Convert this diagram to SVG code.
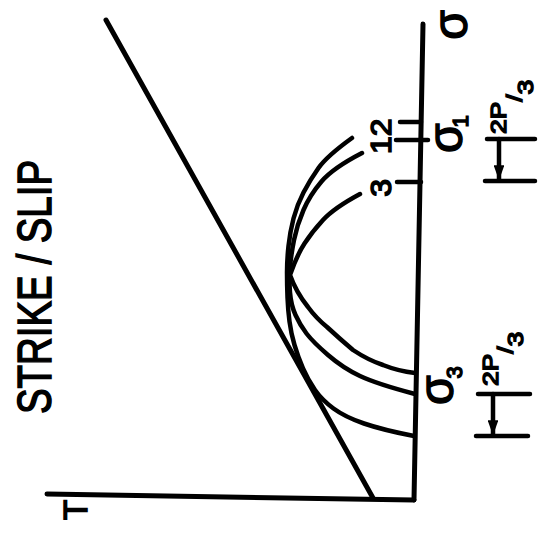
<svg xmlns="http://www.w3.org/2000/svg" width="548" height="550" viewBox="0 0 548 550">
<style>
.ln{fill:none;stroke:#000;stroke-width:5;stroke-linecap:round;stroke-linejoin:round}
.arc{fill:none;stroke:#000;stroke-width:4.5;stroke-linecap:round;stroke-linejoin:round}
.tk{fill:none;stroke:#000;stroke-width:4.5;stroke-linecap:round}
.t{font-family:"Liberation Sans",Arial,sans-serif;fill:#000;stroke:#000;stroke-width:1.5}
</style>
<defs>
<marker id="ah" viewBox="0 0 10 10" preserveAspectRatio="none" refX="9" refY="5" markerWidth="3.4" markerHeight="2.4" orient="auto" markerUnits="strokeWidth">
<path d="M0,0 L10,5 L0,10 z" fill="#000"/>
</marker>
</defs>
<rect x="0" y="0" width="548" height="550" fill="#fff"/>
<g id="title">
<text class="t" font-size="48" stroke-width="2" transform="translate(51,414) rotate(-90)" textLength="254" lengthAdjust="spacingAndGlyphs">STRIKE / SLIP</text>
</g>
<g id="connectors">
<path id="sigma-axis" class="ln" d="M423 24 L414 500"/>
<path id="tau-axis" class="ln" d="M47 494 L414 500"/>
<path id="envelope" class="ln" stroke-width="5.5" d="M106 20 L373 498"/>
</g>
<g id="circle-2">
<path class="arc" d="M352 138 Q327 156 318.5 168 Q310 180 303.5 192.5 Q297 205 293.5 218.5 Q290 232 288.5 246 Q287 260 287 272.5 Q287 285 287.5 297.5 Q288 310 289.5 321.5 Q291 333 294.5 345 Q298 357 303 368.5 Q308 380 315 390 Q322 400 333.5 408.5 Q345 417 364 423.5 Q383 430 414 436"/>
</g>
<g id="circle-1">
<path class="arc" d="M362 153 Q333 168 321.5 181.5 Q310 195 303.5 210 Q297 225 294 240 Q291 255 290 267.5 Q289 280 290 292.5 Q291 305 295.5 315 Q300 325 306.5 333.5 Q313 342 328 355 Q343 368 360 376 Q377 384 415 394"/>
</g>
<g id="circle-3">
<path class="arc" d="M360 194 Q334 208 323 220 Q312 232 304.5 243.5 Q297 255 290 275 Q296 292 308 307 Q316 318 327 327 Q340 339 353 350 Q368 360 383 365 Q398 371 415 373"/>
</g>
<g id="ticks">
<path class="tk" d="M400 122 L421 122"/>
<path class="tk" d="M396 140 L428 140"/>
<path class="tk" d="M397 182 L421 182"/>
</g>
<g id="circle-labels">
<text class="t" font-size="29" transform="translate(391,154) rotate(-90) scale(1.1,1)">12</text>
<text class="t" font-size="29" transform="translate(391,188) rotate(-90) scale(1.1,1)" text-anchor="middle">3</text>
</g>
<g id="axis-labels">
<text class="t" font-size="48" transform="translate(467,25) rotate(-90)" text-anchor="middle">σ</text>
<text class="t" font-size="48" transform="translate(462,153) rotate(-90)">σ<tspan font-size="22" dx="-4" dy="6">1</tspan></text>
<text class="t" font-size="48" transform="translate(453,405) rotate(-90)">σ<tspan font-size="22" dx="-3" dy="9">3</tspan></text>
<text class="t" font-size="33" transform="translate(87,510) rotate(-90)" text-anchor="middle">T</text>
</g>
<g id="bracket-1">
<path class="tk" d="M487 139 L535 139 M485 181 L535 181"/>
<path class="tk" d="M499 139 L499 179" marker-end="url(#ah)"/>
<text class="t" font-size="22" transform="translate(506,134) rotate(-90) scale(1.2,1)">2P<tspan dy="16">/</tspan><tspan dy="11">3</tspan></text>
</g>
<g id="bracket-2">
<path class="tk" d="M478 394 L530 394 M476 436 L528 436"/>
<path class="tk" d="M493 394 L493 434" marker-end="url(#ah)"/>
<text class="t" font-size="22" transform="translate(498,386) rotate(-90) scale(1.2,1)">2P<tspan dy="15">/</tspan><tspan dy="10">3</tspan></text>
</g>
</svg>
